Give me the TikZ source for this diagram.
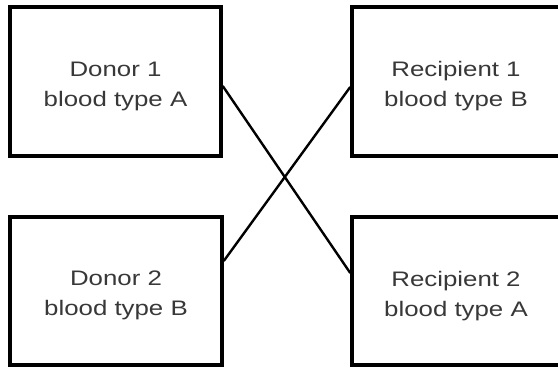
\documentclass[tikz,border=0pt]{standalone}
\usepackage{fontspec}
\setmainfont{Liberation Sans}[FakeStretch=1.23]
\begin{document}
\begin{tikzpicture}[x=1pt,y=-1pt,
  box/.style={draw=black, line width=3.5pt, fill=white, inner sep=0pt, rectangle},
  caption/.style={align=center, text=black!78, font=\fontsize{21pt}{30pt}\selectfont, inner sep=0pt},
  link/.style={draw=black, line width=2.4pt}]
  \useasboundingbox (0,0) rectangle (558,370);

  % donor and recipient boxes
  \node[box, minimum width=211pt, minimum height=149pt] (d1) at (115.5,81.5) {};
  \node[box, minimum width=208pt, minimum height=149pt] (r1) at (456,81.5) {};
  \node[box, minimum width=212pt, minimum height=148pt] (d2) at (116,291) {};
  \node[box, minimum width=208pt, minimum height=148pt] (r2) at (456,291) {};

  % labels
  \node[caption, yshift=-4.6pt] (t1) at (d1.center) {Donor 1\\blood type A};
  \node[caption, yshift=-4.6pt] (t2) at (r1.center) {Recipient 1\\blood type B};
  \node[caption, yshift=-4.6pt] (t3) at (d2.center) {Donor 2\\blood type B};
  \node[caption, yshift=-4.6pt] (t4) at (r2.center) {Recipient 2\\blood type A};

  % crossing donor-to-recipient links
  \draw[link] ([yshift=-4.5pt]d1.east) -- ([yshift=18pt]r2.west);
  \draw[link] ([yshift=30pt]d2.east) -- ([yshift=-5.5pt]r1.west);
\end{tikzpicture}
\end{document}
